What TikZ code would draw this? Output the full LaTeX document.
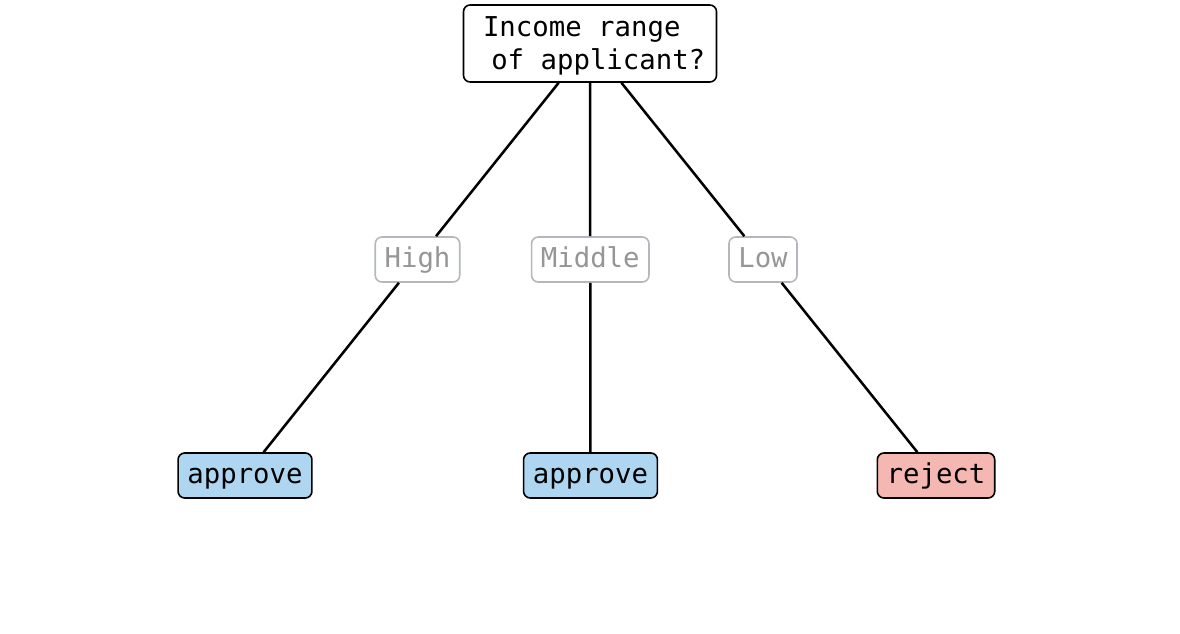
\documentclass[tikz,border=0pt]{standalone}
\usepackage{fontspec}
\newfontfamily\dmono{DejaVu Sans Mono}
\usetikzlibrary{calc}
\definecolor{leafblue}{RGB}{174,214,241}
\definecolor{leafred}{RGB}{245,183,177}
\definecolor{labborder}{RGB}{180,184,188}
\definecolor{labtext}{RGB}{150,150,150}
\tikzset{
  base/.style={font=\dmono\fontsize{20.5}{24.75}\selectfont, rounded corners=5pt, inner xsep=7pt, inner ysep=0pt, minimum height=33.75pt},
  rootbox/.style={base, draw=black, line width=1.2pt, fill=white, align=center, minimum width=189.75pt, minimum height=57.75pt},
  leafbox/.style={base, draw=black, line width=1.2pt, text height=17pt, text depth=4.5pt},
  labbox/.style={base, draw=labborder, line width=1.2pt, fill=white, text=labtext, text height=17pt, text depth=4.5pt},
  edge/.style={line width=1.9pt, black}
}
\begin{document}
\begin{tikzpicture}[x=0.75pt,y=-0.75pt]
\useasboundingbox (0,0) rectangle (1180,634);
\node[rootbox] (root) at (590,43.5) {\rule{0pt}{18pt}Income range\hphantom{x}\\\hphantom{x}of applicant?};
\node[leafbox, fill=leafblue] (a1) at (245,475.5) {approve};
\node[leafbox, fill=leafblue] (a2) at (590.5,475.5) {approve};
\node[leafbox, fill=leafred] (r1) at (936,475.5) {reject};
\node[labbox] (lh) at ($(root.center)!0.5!(a1.center)$) {High};
\node[labbox] (lm) at ($(root.center)!0.5!(a2.center)$) {Middle};
\node[labbox] (ll) at ($(root.center)!0.5!(r1.center)$) {Low};
\draw[edge] (root) -- (lh);
\draw[edge] (lh) -- (a1);
\draw[edge] (root) -- (lm);
\draw[edge] (lm) -- (a2);
\draw[edge] (root) -- (ll);
\draw[edge] (ll) -- (r1);
\end{tikzpicture}
\end{document}
